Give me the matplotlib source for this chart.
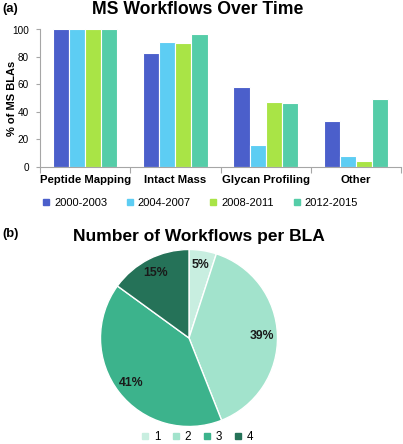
import matplotlib
matplotlib.use("Agg")
import matplotlib.pyplot as plt
from matplotlib.lines import Line2D
import numpy as np

plt.rcParams['font.family'] = ['Liberation Sans', 'DejaVu Sans']

categories = ["Peptide Mapping", "Intact Mass", "Glycan Profiling", "Other"]
periods = ["2000-2003", "2004-2007", "2008-2011", "2012-2015"]
values = {
    "2000-2003": [100, 83, 58, 33],
    "2004-2007": [100, 91, 16, 8],
    "2008-2011": [100, 90, 47, 4],
    "2012-2015": [100, 97, 46.5, 49.5],
}
bar_colors = ["#4b5fcb", "#5dcdf3", "#a9e446", "#55cda8"]
yticks = [0, 20, 40, 60, 80, 100]

pie_labels = ["1", "2", "3", "4"]
pie_values = [5, 39, 41, 15]
pie_colors = ["#c8eee0", "#a2e3cc", "#3cb38c", "#257258"]

W, H = 403, 444
fig = plt.figure(figsize=(W / 100, H / 100), dpi=100)

def fx(px):
    return px / W

def fy(py):
    return 1 - py / H

# ---- (a) bar chart ----
ax = fig.add_axes([fx(40), fy(166.7), fx(361), 137.2 / H])
x = np.arange(len(categories))
bw = 0.178
gray = "#a6a6a6"
for i, p in enumerate(periods):
    ax.bar(x + (i - 1.5) * bw, values[p], width=bw, color=bar_colors[i],
           edgecolor="white", linewidth=0.8, zorder=2)
ax.set_xlim(-0.5, len(categories) - 0.5)
ax.set_ylim(0, 100)
ax.set_yticks(yticks)
ax.set_yticklabels([str(v) for v in yticks], fontsize=7.2)
ax.set_xticks(np.arange(-0.5, len(categories), 1.0))
ax.set_xticklabels([])
ax.set_xticks(x, minor=True)
ax.set_xticklabels(categories, minor=True, fontsize=8.2, fontweight="bold")
ax.tick_params(axis="x", which="major", length=4, color=gray, width=0.8)
ax.tick_params(axis="x", which="minor", length=0, pad=6)
ax.tick_params(axis="y", length=3, color=gray, width=0.8, pad=5)
for s in ["top", "right"]:
    ax.spines[s].set_visible(False)
for s in ["left", "bottom"]:
    ax.spines[s].set_color(gray)
    ax.spines[s].set_linewidth(0.8)
ax.set_ylabel("% of MS BLAs", fontsize=8, fontweight="bold")
ax.yaxis.set_label_coords((17 - 40) / 361, 0.5)

handles = [Line2D([], [], marker="s", linestyle="none", markersize=4.3,
                  markerfacecolor=c, markeredgecolor=c) for c in bar_colors]
fig.legend(handles, periods, loc="center", bbox_to_anchor=(fx(200), fy(203)),
           ncol=4, frameon=False, fontsize=8, handlelength=0.7,
           handletextpad=0.35, columnspacing=1.7, borderpad=0)

fig.text(fx(198), fy(10), "MS Workflows Over Time", ha="center", va="center",
         fontsize=12.7, fontweight="bold")
fig.text(fx(2), fy(9), "(a)", ha="left", va="center", fontsize=9.4,
         fontweight="bold")

# ---- (b) pie chart ----
cx, cy, r = 189, 338, 88.5
pax = fig.add_axes([fx(cx - r), fy(cy + r), 2 * r / W, 2 * r / H])
wedges, texts, autotexts = pax.pie(
    pie_values, colors=pie_colors, startangle=90, counterclock=False,
    autopct=lambda p: f"{p:.0f}%", pctdistance=0.83,
    wedgeprops=dict(edgecolor="white", linewidth=1.0),
    textprops=dict(fontsize=8.8, fontweight="bold", color="#1a1a1a"))
pax.set_xlim(-1, 1)
pax.set_ylim(-1, 1)
pax.set_aspect("auto")
pax.axis("off")

phandles = [Line2D([], [], marker="s", linestyle="none", markersize=4.3,
                   markerfacecolor=c, markeredgecolor=c) for c in pie_colors]
fig.legend(phandles, pie_labels, loc="center", bbox_to_anchor=(fx(197), fy(437)),
           ncol=4, frameon=False, fontsize=8.4, handlelength=0.7,
           handletextpad=0.4, columnspacing=1.0, borderpad=0)

fig.text(fx(199), fy(236), "Number of Workflows per BLA", ha="center",
         va="center", fontsize=12.5, fontweight="bold")
fig.text(fx(2), fy(234), "(b)", ha="left", va="center", fontsize=9.4,
         fontweight="bold")

fig.savefig("out.png", dpi=100)
